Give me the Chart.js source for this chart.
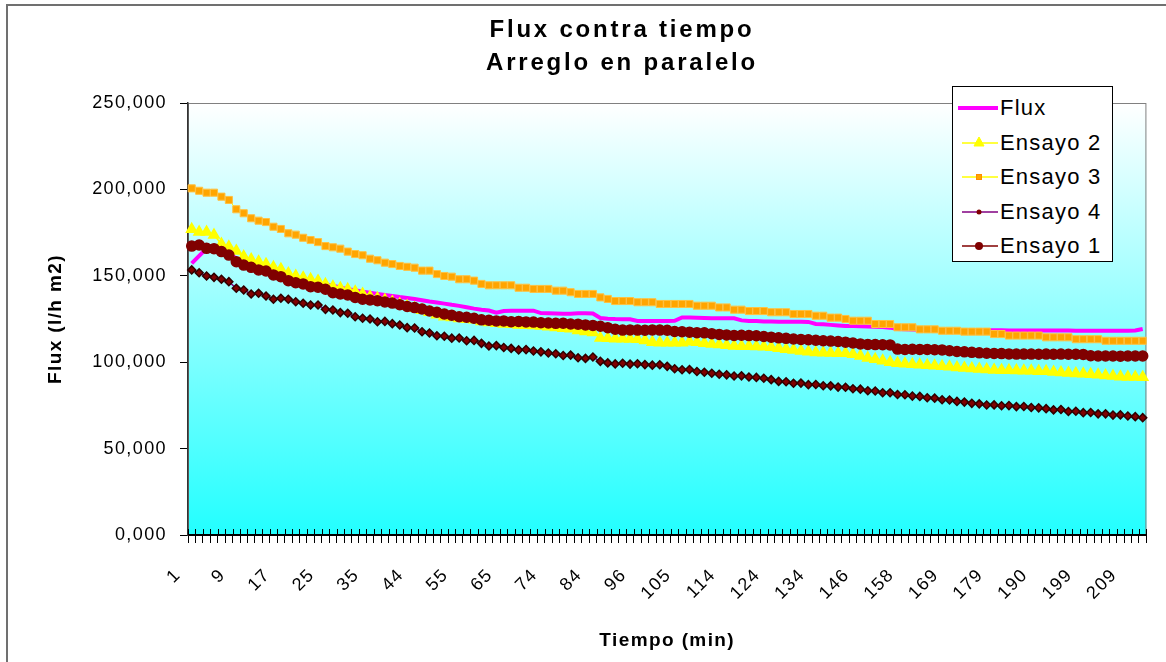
<!DOCTYPE html>
<html lang="es">
<head>
  <meta charset="UTF-8">
  <title>Flux contra tiempo</title>
  <script src="https://cdn.jsdelivr.net/npm/chart.js@4.4.0/dist/chart.umd.min.js"></script>
  <style>
    html, body { margin: 0; padding: 0; overflow: hidden; background: #fff; }
    body { font-family: "Liberation Sans", Arial, sans-serif; }
    .frame { position: absolute; left: 6px; top: 4px; width: 1300px; height: 800px; border: 2px solid #707070; }
    .chart-container { position: absolute; left: 0; top: 0; width: 1166px; height: 662px; }
    #legend {
      position: absolute; left: 952px; top: 86px; width: 161px; height: 176px;
      box-sizing: border-box; padding-top: 4px; border: 1.5px solid #000; background: #fff;
    }
    .item { height: 34.5px; display: flex; align-items: center; font-size: 22px; letter-spacing: 1.2px; color: #000; }
    .item svg { margin-left: 5px; margin-right: 2px; }
  </style>
</head>
<body>
  <div class="frame"></div>
  <div class="chart-container">
    <canvas id="chart"></canvas>
  </div>
  <div id="legend"></div>

  <script>
    // tiempo (min) - one category per reading
    const times = [
      1, 2, 4, 5, 6, 8, 9,
      10, 12, 13, 14, 16, 17,
      18, 20, 21, 22, 24, 25,
      27, 28, 30, 32, 33, 35,
      37, 38, 40, 41, 43, 44,
      46, 48, 50, 51, 53, 55,
      57, 58, 60, 62, 63, 65,
      67, 68, 70, 71, 73, 74,
      76, 77, 79, 81, 82, 84,
      86, 88, 90, 92, 94, 96,
      98, 99, 101, 102, 104, 105,
      107, 108, 110, 111, 113, 114,
      116, 117, 119, 121, 122, 124,
      126, 127, 129, 131, 132, 134,
      136, 138, 140, 142, 144, 146,
      148, 150, 152, 154, 156, 158,
      160, 162, 164, 165, 167, 169,
      171, 172, 174, 176, 177, 179,
      181, 183, 185, 186, 188, 190,
      192, 193, 195, 196, 198, 199,
      201, 202, 204, 206, 207, 209,
      211, 212
    ];

    const flux = [
      157.2, 161.5, 165.9, 166.3, 165.2, 163.2, 160.0, 157.6, 156.0, 154.6, 153.6, 152.2, 151.0, 148.9, 148.0, 147.2, 146.3, 145.6, 144.9, 144.2, 143.3, 142.3, 141.6, 140.8, 140.2, 139.5,
      138.9, 138.3, 137.7, 137.2, 136.6, 135.9, 135.1, 134.5, 133.9, 133.2, 132.6, 131.8, 131.0, 130.3, 129.9, 128.7, 129.6, 129.8, 129.8, 129.8, 129.8, 128.4, 128.3, 128.2, 128.0, 128.0,
      128.3, 128.3, 128.2, 125.6, 125.2, 125.0, 124.9, 124.8, 123.9, 123.8, 123.8, 123.8, 123.8, 124.0, 125.9, 125.8, 125.7, 125.6, 125.5, 125.5, 125.4, 125.4, 124.2, 123.8, 123.8, 123.6,
      123.5, 123.4, 123.4, 123.4, 123.4, 123.3, 122.1, 121.9, 121.6, 121.3, 121.0, 120.9, 120.8, 120.6, 120.5, 120.3, 120.0, 119.2, 119.0, 118.9, 118.8, 118.8, 118.7, 118.7, 118.6, 118.6,
      118.6, 118.6, 118.5, 118.5, 118.5, 118.5, 118.4, 118.4, 118.4, 118.4, 118.3, 118.3, 118.3, 118.3, 118.3, 118.2, 118.2, 118.2, 118.2, 118.2, 118.2, 118.2, 118.2, 118.3, 119.2
    ];

    const ensayo2 = [
      176.9, 175.3, 175.3, 173.6, 168.4, 166.8, 164.4, 161.1, 159.5, 158.2, 156.7, 154.9, 153.8, 151.4, 149.9, 148.9, 148.0, 147.0, 145.1, 143.7, 142.8, 142.2, 140.8, 139.5, 137.9, 137.0,
      136.0, 134.9, 133.6, 132.5, 131.3, 130.0, 128.9, 127.4, 126.3, 125.8, 125.3, 124.9, 124.6, 123.5, 123.0, 122.5, 122.1, 121.9, 121.6, 121.4, 121.2, 121.0, 120.5, 120.1, 119.7, 119.4,
      118.3, 117.8, 117.2, 114.0, 113.8, 113.6, 113.5, 113.4, 113.3, 112.6, 111.6, 111.3, 111.3, 111.3, 111.3, 111.8, 111.6, 110.9, 110.5, 110.2, 109.8, 109.4, 109.3, 109.2, 109.1, 109.0,
      108.6, 108.1, 107.5, 107.0, 106.5, 106.0, 105.6, 105.4, 105.3, 105.2, 105.2, 104.6, 103.6, 102.4, 101.7, 100.9, 100.0, 99.4, 99.1, 98.8, 98.5, 98.2, 97.9, 97.6, 97.3, 97.0,
      96.7, 96.4, 96.1, 95.8, 95.5, 95.4, 95.3, 95.2, 95.1, 95.0, 94.8, 94.7, 94.4, 94.1, 93.8, 93.5, 93.3, 93.0, 92.7, 92.3, 92.0, 91.6, 91.5, 91.4, 91.3
    ];

    const ensayo3 = [
      200.6, 199.2, 198.1, 198.1, 195.8, 193.9, 188.5, 186.2, 183.3, 181.9, 181.1, 178.4, 177.1, 174.6, 173.8, 172.0, 170.7, 169.5, 167.2, 166.5, 165.7, 164.0, 162.6, 161.9, 159.9, 159.0,
      157.6, 156.8, 155.7, 155.2, 154.7, 153.0, 153.0, 151.0, 149.9, 149.5, 148.0, 148.0, 147.2, 145.3, 144.5, 144.5, 144.5, 144.5, 143.1, 143.1, 142.4, 142.4, 142.4, 141.4, 141.4, 140.5,
      139.5, 139.5, 139.5, 137.5, 136.6, 135.4, 135.4, 135.4, 134.7, 134.7, 134.7, 133.7, 133.7, 133.7, 133.7, 133.7, 132.7, 132.7, 132.7, 131.7, 131.7, 130.4, 130.4, 129.6, 129.6, 129.6,
      128.9, 128.9, 128.9, 127.9, 127.9, 127.9, 126.9, 126.9, 125.8, 125.8, 125.0, 124.0, 124.0, 124.0, 122.1, 122.1, 122.1, 120.2, 120.2, 120.2, 119.0, 119.0, 119.0, 118.2, 118.2, 118.2,
      117.7, 117.7, 117.7, 117.7, 116.3, 116.3, 115.4, 115.4, 115.4, 115.4, 115.4, 114.4, 114.4, 114.4, 114.4, 113.3, 113.3, 113.3, 113.3, 112.4, 112.4, 112.4, 112.4, 112.4, 112.4
    ];

    const ensayo4 = [
      153.4, 151.8, 149.9, 149.1, 148.0, 146.6, 142.8, 141.8, 139.5, 139.9, 138.3, 136.4, 137.0, 136.4, 135.0, 134.1, 133.1, 133.1, 130.6, 130.2, 128.7, 128.3, 126.3, 125.4, 125.0, 123.4,
      123.6, 122.3, 121.5, 120.0, 119.8, 117.6, 116.9, 115.3, 115.0, 113.9, 114.0, 112.4, 112.6, 110.9, 109.4, 109.6, 108.5, 108.0, 107.1, 107.3, 106.5, 106.0, 105.3, 104.9, 103.9, 104.1,
      102.6, 102.2, 103.0, 100.5, 99.6, 99.0, 99.4, 98.9, 99.1, 98.6, 98.3, 98.5, 97.6, 96.2, 95.6, 95.8, 94.6, 94.2, 93.6, 93.0, 92.7, 92.0, 92.1, 91.4, 91.2, 90.7,
      89.9, 88.9, 88.7, 87.8, 87.9, 87.0, 87.1, 86.4, 86.3, 85.6, 85.5, 84.6, 84.4, 83.5, 83.3, 82.3, 82.3, 81.3, 81.2, 80.4, 80.2, 79.4, 79.2, 78.3, 78.1, 77.3,
      76.9, 76.2, 75.9, 75.2, 75.3, 74.8, 74.9, 74.3, 74.4, 73.8, 73.6, 73.1, 72.4, 72.6, 71.5, 71.6, 70.8, 70.9, 70.1, 70.1, 69.4, 69.5, 68.9, 68.5, 67.9
    ];

    const ensayo1 = [
      167.2, 167.8, 165.9, 165.7, 164.0, 162.0, 158.2, 156.2, 154.9, 153.4, 152.8, 150.5, 149.5, 147.2, 146.0, 145.3, 143.7, 143.4, 142.2, 140.2, 139.5, 138.9, 137.5, 136.4, 136.0, 135.6,
      134.9, 134.2, 133.3, 132.3, 131.6, 130.8, 129.6, 128.9, 127.9, 127.2, 126.3, 126.0, 125.4, 124.5, 124.3, 123.9, 123.9, 123.4, 123.6, 123.3, 123.2, 122.9, 122.7, 122.5, 122.6, 122.1,
      122.0, 121.6, 121.3, 120.8, 120.0, 119.1, 118.6, 118.7, 118.6, 118.5, 118.7, 118.6, 118.5, 117.8, 117.6, 117.4, 117.1, 117.0, 116.5, 116.1, 115.8, 115.5, 115.6, 115.4, 115.3, 114.9,
      114.5, 114.1, 113.8, 113.4, 113.2, 113.0, 112.7, 112.4, 112.2, 112.0, 111.6, 111.1, 110.6, 110.3, 110.2, 110.1, 110.0, 107.6, 107.4, 107.5, 107.4, 107.4, 107.2, 107.1, 106.6, 106.2,
      106.0, 105.7, 105.4, 105.2, 105.1, 105.0, 104.8, 104.7, 104.7, 104.7, 104.6, 104.7, 104.6, 104.7, 104.6, 104.6, 104.5, 103.7, 103.6, 103.6, 103.6, 103.5, 103.6, 103.6, 103.6
    ];

    const labelEvery = 6;

    Chart.defaults.font.family = '"Liberation Sans", Arial, sans-serif';
    Chart.defaults.color = '#000';

    // gradient plot background, grey frame, and the upper half of the crossing x ticks
    const plotDecor = {
      id: 'plotDecor',
      beforeDraw(chart) {
        const { ctx, chartArea: a } = chart;
        ctx.letterSpacing = '1.4px';
        const g = ctx.createLinearGradient(0, a.top, 0, a.bottom);
        g.addColorStop(0, '#ffffff');
        g.addColorStop(1, '#22ffff');
        ctx.save();
        ctx.fillStyle = g;
        ctx.fillRect(a.left, a.top, a.width, a.height);
        ctx.strokeStyle = '#808080';
        ctx.lineWidth = 1;
        ctx.strokeRect(a.left + 0.5, a.top + 0.5, a.width - 1, a.height);
        ctx.restore();
      },
      afterDraw(chart) {
        const { ctx, chartArea: a } = chart;
        const x = chart.scales.x;
        const step = x.getPixelForValue(1) - x.getPixelForValue(0);
        ctx.save();
        ctx.strokeStyle = '#000';
        ctx.lineWidth = 1;
        ctx.beginPath();
        for (let i = 0; i <= times.length; i++) {
          const px = Math.round(x.getPixelForValue(i) - step / 2) + 0.5;
          ctx.moveTo(px, a.bottom - 6);
          ctx.lineTo(px, a.bottom);
        }
        ctx.stroke();
        ctx.restore();
      }
    };

    const chart = new Chart(document.getElementById('chart'), {
      type: 'line',
      data: {
        labels: times,
        datasets: [
          {
            label: 'Flux', data: flux, order: 5,
            borderColor: '#ff00ff', backgroundColor: '#ff00ff', borderWidth: 4, pointRadius: 0
          },
          {
            label: 'Ensayo 2', data: ensayo2, order: 4,
            borderColor: '#ffff00', borderWidth: 1.5,
            pointStyle: 'triangle', pointRadius: 6,
            pointBackgroundColor: '#ffff00', pointBorderColor: '#ffff00'
          },
          {
            label: 'Ensayo 3', data: ensayo3, order: 3,
            borderColor: '#ffff00', borderWidth: 1,
            pointStyle: 'rect', pointRadius: 5,
            pointBackgroundColor: '#ffa500', pointBorderColor: '#ffc040'
          },
          {
            label: 'Ensayo 4', data: ensayo4, order: 2,
            borderColor: '#800080', borderWidth: 1.5,
            pointStyle: 'rectRot', pointRadius: 4,
            pointBackgroundColor: '#800000', pointBorderColor: '#300000'
          },
          {
            label: 'Ensayo 1', data: ensayo1, order: 1,
            borderColor: '#800000', borderWidth: 1.5,
            pointStyle: 'circle', pointRadius: 5,
            pointBackgroundColor: '#800000', pointBorderColor: '#800000'
          }
        ]
      },
      options: {
        responsive: true,
        maintainAspectRatio: false,
        animation: false,
        events: [],
        layout: { padding: { left: 86, right: 8, top: 0, bottom: 10 } },
        elements: { line: { tension: 0 } },
        plugins: {
          legend: { display: false },
          tooltip: { enabled: false },
          title: {
            display: true,
            text: ['Flux contra tiempo', 'Arreglo en paralelo'],
            color: '#000',
            font: { size: 24, weight: 'bold', lineHeight: 1.375 },
            padding: { top: 13.5, bottom: 23.5 }
          }
        },
        scales: {
          x: {
            type: 'category',
            offset: true,
            grid: { offset: true, drawOnChartArea: false, tickLength: 8, color: '#000', tickColor: '#000' },
            border: { color: '#000', width: 2 },
            ticks: {
              autoSkip: false, maxRotation: 45, minRotation: 45, padding: 8,
              font: { size: 18 },
              // trailing gap keeps the rotated label clear of its tick, as in the original
              callback: (v, i) => (i % labelEvery === 0 ? times[i] + '\u00a0\u00a0\u00a0' : '')
            },
            title: {
              display: true, text: 'Tiempo (min)',
              font: { size: 19, weight: 'bold' }, padding: { top: 0, bottom: 0 }
            },
            afterFit(s) { s.height = 117; }
          },
          y: {
            min: 0, max: 250,
            grid: { drawOnChartArea: false, tickLength: 8, color: '#000', tickColor: '#000' },
            border: { color: '#333', width: 1.5 },
            ticks: {
              stepSize: 50, padding: 13, font: { size: 18 },
              callback: v => v.toFixed(3).replace('.', ',')
            },
            title: {
              display: true, text: 'Flux (l/h m2)',
              font: { size: 19, weight: 'bold' }, padding: { top: -42, bottom: 0 }
            },
            afterFit(s) { s.width = 102; }
          }
        }
      },
      plugins: [plotDecor]
    });

    // the title is set a little wider than the tick labels
    const titleDraw = chart.titleBlock.draw.bind(chart.titleBlock);
    chart.titleBlock.draw = function () {
      const ctx = chart.ctx;
      const prev = ctx.letterSpacing;
      ctx.letterSpacing = '2.8px';
      titleDraw();
      ctx.letterSpacing = prev;
    };
    chart.draw();

    // legend box, built from the datasets
    function marker(ds) {
      const c = ds.pointBackgroundColor, b = ds.pointBorderColor;
      switch (ds.pointStyle) {
        case 'triangle': return `<polygon points="21,4 26,13 16,13" fill="${c}" stroke="${b}"/>`;
        case 'rect': return `<rect x="18.5" y="7.5" width="5" height="5" fill="${c}" stroke="#ff8c00"/>`;
        case 'rectRot': return `<circle cx="21" cy="10" r="2.5" fill="${c}"/>`;
        case 'circle': return `<circle cx="21" cy="10" r="4" fill="${c}"/>`;
        default: return '';
      }
    }
    document.getElementById('legend').innerHTML = chart.data.datasets.map(ds => {
      const w = ds.borderWidth >= 4 ? 4 : 1.5;
      const x0 = ds.borderWidth >= 4 ? 0 : 4;
      return `<div class="item"><svg width="40" height="20">` +
        `<line x1="${x0}" y1="10" x2="40" y2="10" stroke="${ds.borderColor}" stroke-width="${w}"/>` +
        marker(ds) + `</svg><span>${ds.label}</span></div>`;
    }).join('');
  </script>
</body>
</html>
